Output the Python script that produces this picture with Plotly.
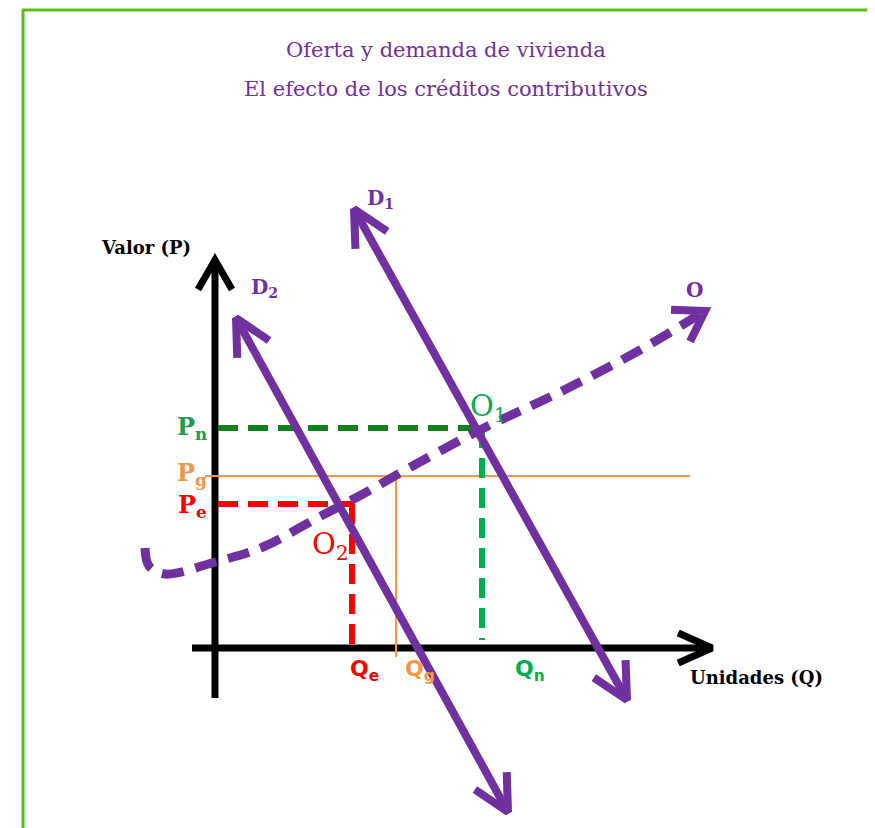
import plotly.graph_objects as go
import numpy as np

# Datos del diagrama (unidades: Q horizontal, P vertical, origen en el cruce de ejes)
demanda_d1_q = [139, 412]
demanda_d1_p = [439, -52]
demanda_d2_q = [21, 293]
demanda_d2_p = [330, -164]

oferta_q = [-70, -66, -50, 0, 48, 102, 148, 185, 265, 345, 425, 490]
oferta_p = [100, 82, 74, 86, 101, 130, 154, 175, 218, 256, 298, 337]

precio_n = 220   # Pn
precio_g = 172   # Pg
precio_e = 144   # Pe
cantidad_n = 267  # Qn
cantidad_g = 181  # Qg
cantidad_e = 137  # Qe

MORADO = '#7030a0'
VERDE_OSCURO = '#137f1f'
VERDE = '#00b050'
ROJO = '#ff0000'
NARANJA = '#f79646'
SERIF = 'DejaVu Serif, serif'
SANS = 'DejaVu Sans, sans-serif'


def punta_flecha(x_tip, y_tip, dx, dy, largo, angulo):
    """Devuelve los puntos de una punta de flecha abierta (dx, dy apuntan hacia atrás)."""
    n = np.hypot(dx, dy)
    ux, uy = dx / n, dy / n
    xs, ys = [], []
    for s in (1, -1):
        a = np.radians(angulo * s)
        xs.append(x_tip + largo * (ux * np.cos(a) - uy * np.sin(a)))
        ys.append(y_tip + largo * (ux * np.sin(a) + uy * np.cos(a)))
    return [xs[0], x_tip, xs[1]], [ys[0], y_tip, ys[1]]


fig = go.Figure()


def linea(x, y, color, width, dash='solid', shape='linear'):
    fig.add_trace(go.Scatter(
        x=x, y=y, mode='lines',
        line=dict(color=color, width=width, dash=dash, shape=shape),
        hoverinfo='skip', showlegend=False
    ))


# Ejes
linea([0, 0], [-50, 388], 'black', 7)
linea([-23, 497], [0, 0], 'black', 7)
ax, ay = punta_flecha(0, 388, 0, -1, 34, 30)
linea(ax, ay, 'black', 7)
ax, ay = punta_flecha(497, 0, -1, 0, 37, 24)
linea(ax, ay, 'black', 7)

# Línea naranja de Pg y Qg
linea([-10, 475], [precio_g, precio_g], NARANJA, 2)
linea([cantidad_g, cantidad_g], [precio_g, -9], NARANJA, 2)

# Líneas de equilibrio punteadas
linea([3, cantidad_n], [precio_n, precio_n], VERDE_OSCURO, 6, dash='20px,10px')
linea([cantidad_n, cantidad_n], [precio_n, 8], VERDE, 6, dash='20px,10px')
linea([3, cantidad_e + 3], [precio_e, precio_e], ROJO, 6, dash='20px,10px')
linea([cantidad_e, cantidad_e], [precio_e, -2], ROJO, 6, dash='20px,10px')

# Curvas de demanda con flechas en ambos extremos
for dq, dp in [(demanda_d1_q, demanda_d1_p), (demanda_d2_q, demanda_d2_p)]:
    linea(dq, dp, MORADO, 8)
    vx, vy = dq[1] - dq[0], dp[1] - dp[0]
    ax, ay = punta_flecha(dq[0], dp[0], vx, vy, 40, 27)
    linea(ax, ay, MORADO, 8)
    ax, ay = punta_flecha(dq[1], dp[1], -vx, -vy, 40, 27)
    linea(ax, ay, MORADO, 8)

# Curva de oferta punteada
linea(oferta_q, oferta_p, MORADO, 9, dash='22px,12px', shape='spline')
ax, ay = punta_flecha(oferta_q[-1], oferta_p[-1],
                      oferta_q[-2] - oferta_q[-1], oferta_p[-2] - oferta_p[-1], 34, 33)
linea(ax, ay, MORADO, 8)

anotaciones = [
    dict(x=231, y=598, text='Oferta y demanda de vivienda', font=dict(family=SERIF, size=21, color=MORADO)),
    dict(x=231, y=559, text='El efecto de los créditos contributivos', font=dict(family=SERIF, size=21, color=MORADO)),
    dict(x=-69, y=401, text='<b>Valor (P)</b>', font=dict(family=SERIF, size=18, color='black')),
    dict(x=541, y=-29, text='<b>Unidades (Q)</b>', font=dict(family=SERIF, size=18, color='black')),
    dict(x=165, y=449, text='<b>D<sub>1</sub></b>', font=dict(family=SERIF, size=20, color=MORADO)),
    dict(x=49, y=360, text='<b>D<sub>2</sub></b>', font=dict(family=SERIF, size=20, color=MORADO)),
    dict(x=479, y=358, text='<b>O</b>', font=dict(family=SERIF, size=20, color=MORADO)),
    dict(x=-23, y=precio_n, text='<b>P<sub>n</sub></b>', font=dict(family=SERIF, size=24, color='#1a9e4a')),
    dict(x=-23, y=precio_g + 2, text='<b>P<sub>g</sub></b>', font=dict(family=SERIF, size=24, color=NARANJA)),
    dict(x=-23, y=precio_e - 2, text='<b>P<sub>e</sub></b>', font=dict(family=SERIF, size=24, color=ROJO)),
    dict(x=273, y=240, text='O<sub>1</sub>', font=dict(family=SERIF, size=29, color=VERDE)),
    dict(x=115, y=102, text='O<sub>2</sub>', font=dict(family=SERIF, size=29, color=ROJO)),
    dict(x=149, y=-22, text='<b>Q<sub>e</sub></b>', font=dict(family=SANS, size=22, color=ROJO)),
    dict(x=205, y=-22, text='<b>Q<sub>g</sub></b>', font=dict(family=SANS, size=22, color=NARANJA)),
    dict(x=315, y=-22, text='<b>Q<sub>n</sub></b>', font=dict(family=SANS, size=22, color=VERDE)),
]
for a in anotaciones:
    a.update(xref='x', yref='y', showarrow=False)

# La página añade 8 px de margen, por eso el lienzo es algo menor que la ventana
fig.update_layout(
    width=867,
    height=820,
    margin=dict(l=0, r=0, t=0, b=0),
    paper_bgcolor='white',
    plot_bgcolor='white',
    xaxis=dict(range=[-207, 660], visible=False, fixedrange=True),
    yaxis=dict(range=[-180, 640], visible=False, fixedrange=True),
    annotations=anotaciones,
    shapes=[
        dict(type='line', xref='x', yref='y', x0=-192, x1=-192, y0=638, y1=-180,
             line=dict(color='#5cbd1a', width=3)),
        dict(type='line', xref='x', yref='y', x0=-193, x1=660, y0=638, y1=638,
             line=dict(color='#5cbd1a', width=3)),
    ],
)

fig.write_html("out.html")
